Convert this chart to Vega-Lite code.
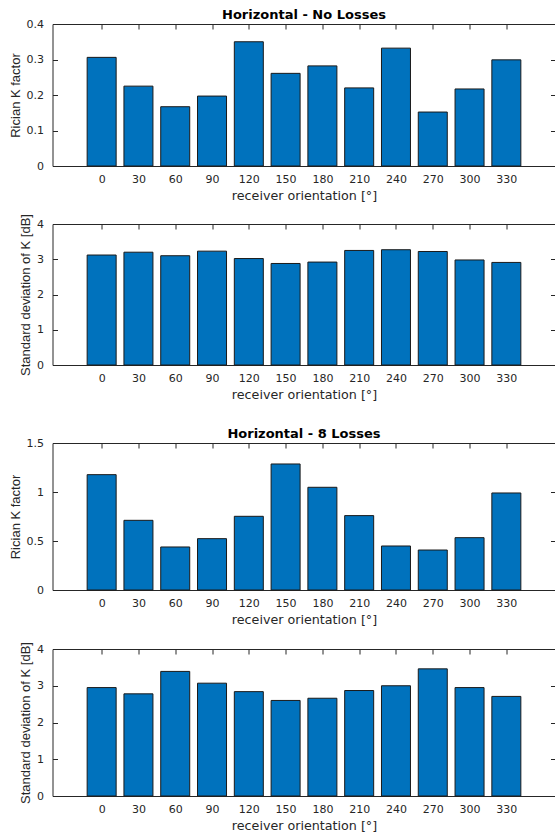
{
  "$schema": "https://vega.github.io/schema/vega-lite/v6.json",
  "padding": {"left": 8.5, "top": 8, "right": 0, "bottom": 0},
  "background": "white",
  "config": {
    "view": {"stroke": "transparent"},
    "axis": {
      "grid": false,
      "minExtent": 0,
      "domainColor": "#262626",
      "domainWidth": 1,
      "tickColor": "#262626",
      "tickSize": -5,
      "labelFont": "DejaVu Sans",
      "labelFontSize": 11,
      "labelColor": "#262626",
      "titleColor": "#262626",
      "titleFontWeight": "normal"
    },
    "axisBottom": {"labelPadding": 12, "titleFont": "DejaVu Sans", "titleFontSize": 12.7, "titlePadding": 5},
    "axisLeft": {"labelPadding": 14, "titleFont": "Liberation Sans", "titleFontSize": 13, "titlePadding": 4},
    "axisTop": {"labels": false},
    "axisRight": {"labels": false, "domain": false},
    "title": {"font": "DejaVu Sans", "fontSize": 13, "fontWeight": "bold", "color": "#000000", "offset": -4, "baseline": "alphabetic", "anchor": "middle", "frame": "group"}
  },
  "datasets": {
    "d": [
      {"orientation": 0, "K_noloss": 0.306, "std_noloss": 3.12, "K_8loss": 1.177, "std_8loss": 2.95},
      {"orientation": 30, "K_noloss": 0.225, "std_noloss": 3.20, "K_8loss": 0.711, "std_8loss": 2.78},
      {"orientation": 60, "K_noloss": 0.167, "std_noloss": 3.10, "K_8loss": 0.439, "std_8loss": 3.39},
      {"orientation": 90, "K_noloss": 0.197, "std_noloss": 3.23, "K_8loss": 0.524, "std_8loss": 3.07},
      {"orientation": 120, "K_noloss": 0.350, "std_noloss": 3.02, "K_8loss": 0.752, "std_8loss": 2.84},
      {"orientation": 150, "K_noloss": 0.261, "std_noloss": 2.88, "K_8loss": 1.286, "std_8loss": 2.60},
      {"orientation": 180, "K_noloss": 0.282, "std_noloss": 2.92, "K_8loss": 1.048, "std_8loss": 2.66},
      {"orientation": 210, "K_noloss": 0.220, "std_noloss": 3.25, "K_8loss": 0.759, "std_8loss": 2.87},
      {"orientation": 240, "K_noloss": 0.332, "std_noloss": 3.27, "K_8loss": 0.449, "std_8loss": 3.00},
      {"orientation": 270, "K_noloss": 0.152, "std_noloss": 3.22, "K_8loss": 0.408, "std_8loss": 3.46},
      {"orientation": 300, "K_noloss": 0.217, "std_noloss": 2.98, "K_8loss": 0.534, "std_8loss": 2.95},
      {"orientation": 330, "K_noloss": 0.299, "std_noloss": 2.91, "K_8loss": 0.990, "std_8loss": 2.71}
    ]
  },
  "spacing": 25,
  "vconcat": [
    {
      "bounds": "flush",
      "spacing": 58,
      "vconcat": [
        {
          "width": 503, "height": 142,
          "title": "Horizontal - No Losses",
          "data": {"name": "d"},
          "resolve": {"axis": {"x": "independent", "y": "independent"}},
          "layer": [
            {
              "mark": {"type": "bar", "width": 29, "color": "#0072BD", "stroke": "#1a1a1a", "strokeWidth": 1},
              "encoding": {
                "x": {"field": "orientation", "type": "quantitative", "scale": {"domain": [-36, 366], "nice": false, "zero": false}, "axis": {"title": "receiver orientation [°]", "values": [0,30,60,90,120,150,180,210,240,270,300,330], "orient": "bottom"}},
                "y": {"field": "K_noloss", "type": "quantitative", "scale": {"domain": [0, 0.4], "nice": false}, "axis": {"title": "Rician K factor", "values": [0,0.1,0.2,0.3,0.4], "format": "~g", "orient": "left"}}
              }
            },
            {
              "mark": {"type": "bar", "width": 29, "opacity": 0},
              "encoding": {
                "x": {"field": "orientation", "type": "quantitative", "axis": {"title": null, "labels": false, "values": [0,30,60,90,120,150,180,210,240,270,300,330], "orient": "top"}},
                "y": {"field": "K_noloss", "type": "quantitative", "axis": {"title": null, "labels": false, "domain": false, "values": [0,0.1,0.2,0.3,0.4], "orient": "right"}}
              }
            }
          ]
        },
        {
          "width": 503, "height": 141,
          "data": {"name": "d"},
          "resolve": {"axis": {"x": "independent", "y": "independent"}},
          "layer": [
            {
              "mark": {"type": "bar", "width": 29, "color": "#0072BD", "stroke": "#1a1a1a", "strokeWidth": 1},
              "encoding": {
                "x": {"field": "orientation", "type": "quantitative", "scale": {"domain": [-36, 366], "nice": false, "zero": false}, "axis": {"title": "receiver orientation [°]", "values": [0,30,60,90,120,150,180,210,240,270,300,330], "orient": "bottom"}},
                "y": {"field": "std_noloss", "type": "quantitative", "scale": {"domain": [0, 4], "nice": false}, "axis": {"title": "Standard deviation of K [dB]", "values": [0,1,2,3,4], "format": "~g", "orient": "left"}}
              }
            },
            {
              "mark": {"type": "bar", "width": 29, "opacity": 0},
              "encoding": {
                "x": {"field": "orientation", "type": "quantitative", "axis": {"title": null, "labels": false, "values": [0,30,60,90,120,150,180,210,240,270,300,330], "orient": "top"}},
                "y": {"field": "std_noloss", "type": "quantitative", "axis": {"title": null, "labels": false, "domain": false, "values": [0,1,2,3,4], "orient": "right"}}
              }
            }
          ]
        }
      ]
    },
    {
      "bounds": "flush",
      "spacing": 59,
      "vconcat": [
        {
          "width": 503, "height": 147,
          "title": "Horizontal - 8 Losses",
          "data": {"name": "d"},
          "resolve": {"axis": {"x": "independent", "y": "independent"}},
          "layer": [
            {
              "mark": {"type": "bar", "width": 29, "color": "#0072BD", "stroke": "#1a1a1a", "strokeWidth": 1},
              "encoding": {
                "x": {"field": "orientation", "type": "quantitative", "scale": {"domain": [-36, 366], "nice": false, "zero": false}, "axis": {"title": "receiver orientation [°]", "values": [0,30,60,90,120,150,180,210,240,270,300,330], "orient": "bottom"}},
                "y": {"field": "K_8loss", "type": "quantitative", "scale": {"domain": [0, 1.5], "nice": false}, "axis": {"title": "Rician K factor", "values": [0,0.5,1,1.5], "format": "~g", "orient": "left"}}
              }
            },
            {
              "mark": {"type": "bar", "width": 29, "opacity": 0},
              "encoding": {
                "x": {"field": "orientation", "type": "quantitative", "axis": {"title": null, "labels": false, "values": [0,30,60,90,120,150,180,210,240,270,300,330], "orient": "top"}},
                "y": {"field": "K_8loss", "type": "quantitative", "axis": {"title": null, "labels": false, "domain": false, "values": [0,0.5,1,1.5], "orient": "right"}}
              }
            }
          ]
        },
        {
          "width": 503, "height": 147,
          "data": {"name": "d"},
          "resolve": {"axis": {"x": "independent", "y": "independent"}},
          "layer": [
            {
              "mark": {"type": "bar", "width": 29, "color": "#0072BD", "stroke": "#1a1a1a", "strokeWidth": 1},
              "encoding": {
                "x": {"field": "orientation", "type": "quantitative", "scale": {"domain": [-36, 366], "nice": false, "zero": false}, "axis": {"title": "receiver orientation [°]", "values": [0,30,60,90,120,150,180,210,240,270,300,330], "orient": "bottom"}},
                "y": {"field": "std_8loss", "type": "quantitative", "scale": {"domain": [0, 4], "nice": false}, "axis": {"title": "Standard deviation of K [dB]", "values": [0,1,2,3,4], "format": "~g", "orient": "left"}}
              }
            },
            {
              "mark": {"type": "bar", "width": 29, "opacity": 0},
              "encoding": {
                "x": {"field": "orientation", "type": "quantitative", "axis": {"title": null, "labels": false, "values": [0,30,60,90,120,150,180,210,240,270,300,330], "orient": "top"}},
                "y": {"field": "std_8loss", "type": "quantitative", "axis": {"title": null, "labels": false, "domain": false, "values": [0,1,2,3,4], "orient": "right"}}
              }
            }
          ]
        }
      ]
    }
  ]
}
